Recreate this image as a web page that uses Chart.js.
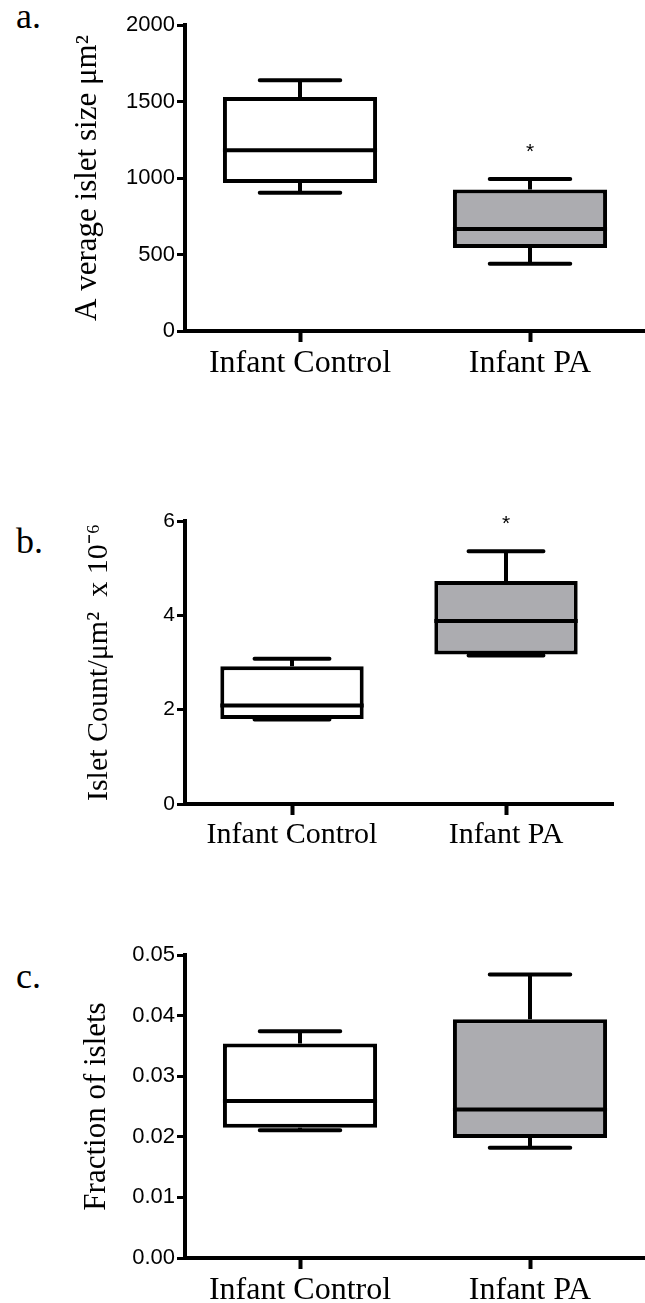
<!DOCTYPE html>
<html><head><meta charset="utf-8">
<script src="https://cdn.jsdelivr.net/npm/chart.js@4.4.0/dist/chart.umd.min.js"></script>
<style>
html,body{margin:0;padding:0;background:#fff;width:645px;height:1303px;overflow:hidden;position:relative}
canvas{position:absolute;left:0}
.lab{position:absolute;left:16px;font-family:"Liberation Serif";font-size:36px;line-height:36px;color:#000}
</style></head><body>
<div class="lab" style="top:-2px">a.</div>
<div class="lab" style="top:523px">b.</div>
<div class="lab" style="top:958px">c.</div>
<canvas id="ca" width="645" height="400" style="top:0px;width:645px;height:400px"></canvas>
<canvas id="cb" width="645" height="420" style="top:440px;width:645px;height:420px"></canvas>
<canvas id="cc" width="645" height="403" style="top:900px;width:645px;height:403px"></canvas>
<script>
const categories = ['Infant Control', 'Infant PA'];
const boxFills = ['#ffffff', '#acacb0'];

// a. Average islet size
const sizeMin = [903, 439];
const sizeQ1 = [968, 542];
const sizeMed = [1182, 667];
const sizeQ3 = [1530, 925];
const sizeMax = [1639, 993];
const sizeSig = ['', '*'];
const sizeTicks = ['0', '500', '1000', '1500', '2000'];

// b. Islet count
const countMin = [1.79, 3.15];
const countQ1 = [1.80, 3.17];
const countMed = [2.09, 3.88];
const countQ3 = [2.92, 4.73];
const countMax = [3.08, 5.36];
const countSig = ['', '*'];
const countTicks = ['0', '2', '4', '6'];

// c. Fraction of islets
const fracMin = [0.0211, 0.0182];
const fracQ1 = [0.0215, 0.0198];
const fracMed = [0.0259, 0.0245];
const fracQ3 = [0.0354, 0.0394];
const fracMax = [0.0374, 0.0468];
const fracSig = ['', ''];
const fracTicks = ['0.00', '0.01', '0.02', '0.03', '0.04', '0.05'];

const boxExtras = {
  id: 'boxExtras',
  afterDatasetsDraw(chart, args, o) {
    const ctx = chart.ctx;
    const xs = chart.scales.x, ys = chart.scales.y;
    const meta = chart.getDatasetMeta(0);
    const catW = xs.getPixelForValue(1) - xs.getPixelForValue(0);
    const capHalf = catW * o.capFrac;
    ctx.save();
    ctx.strokeStyle = '#000';
    ctx.lineWidth = o.lw;
    o.med.forEach((m, i) => {
      const x = xs.getPixelForValue(i);
      const bar = meta.data[i];
      const yMin = ys.getPixelForValue(o.min[i]);
      const yMax = ys.getPixelForValue(o.max[i]);
      const yQ1 = ys.getPixelForValue(o.q1[i]);
      const yQ3 = ys.getPixelForValue(o.q3[i]);
      const yMed = ys.getPixelForValue(m);
      ctx.lineCap = 'butt';
      ctx.beginPath();
      ctx.moveTo(x, yQ3); ctx.lineTo(x, yMax);
      ctx.moveTo(x, yQ1); ctx.lineTo(x, yMin);
      ctx.stroke();
      ctx.lineCap = 'round';
      ctx.beginPath();
      ctx.moveTo(x - capHalf, yMax); ctx.lineTo(x + capHalf, yMax);
      ctx.moveTo(x - capHalf, yMin); ctx.lineTo(x + capHalf, yMin);
      ctx.stroke();
      ctx.lineCap = 'butt';
      ctx.beginPath();
      ctx.moveTo(bar.x - bar.width / 2, yMed); ctx.lineTo(bar.x + bar.width / 2, yMed);
      ctx.stroke();
      if (o.sig[i]) {
        ctx.fillStyle = '#000';
        ctx.font = '21px "Liberation Sans"';
        ctx.textAlign = 'center';
        ctx.textBaseline = 'middle';
        ctx.fillText(o.sig[i], x, yMax - 27);
      }
    });
    ctx.restore();
  }
};

function makePanel(id, d) {
  new Chart(document.getElementById(id), {
    type: 'bar',
    data: {
      labels: categories,
      datasets: [{
        data: d.q1.map((v, i) => [v, d.q3[i]]),
        backgroundColor: boxFills,
        borderColor: '#000',
        borderWidth: 4,
        borderSkipped: false,
        barPercentage: 0.67,
        categoryPercentage: 1
      }]
    },
    options: {
      responsive: false,
      devicePixelRatio: 1,
      animation: false,
      events: [],
      layout: { padding: { top: d.padTop, right: d.padRight, left: 0, bottom: 0 } },
      plugins: {
        legend: { display: false },
        tooltip: { enabled: false },
        boxExtras: { min: d.min, q1: d.q1, med: d.med, q3: d.q3, max: d.max, sig: d.sig, capFrac: 0.175, lw: 4 }
      },
      scales: {
        x: {
          afterFit: s => { s.height = d.xH; },
          grid: { display: true, drawOnChartArea: false, offset: false, drawTicks: true, tickLength: 11, tickWidth: 4, color: '#000' },
          border: { display: true, color: '#000', width: 4 },
          ticks: { color: '#000', padding: 2, maxRotation: 0, autoSkip: false, font: { family: 'Liberation Serif', size: d.xFont } }
        },
        y: {
          min: 0, max: d.max0,
          afterFit: s => { s.width = 185; },
          grid: { display: true, drawOnChartArea: false, drawTicks: true, tickLength: 8, tickWidth: 3, color: '#000' },
          border: { display: true, color: '#000', width: 4 },
          ticks: { stepSize: d.step, color: '#000', padding: 2, font: { family: 'Liberation Sans', size: d.yFont }, callback: (v, i) => d.ticks[i] },
          title: { display: true, text: d.title, color: '#000', font: { family: 'Liberation Serif', size: d.tFont }, padding: { top: d.tPad, bottom: 0 } }
        }
      }
    },
    plugins: [boxExtras]
  });
}

makePanel('ca', { min: sizeMin, q1: sizeQ1, med: sizeMed, q3: sizeQ3, max: sizeMax, sig: sizeSig, ticks: sizeTicks, max0: 2000, step: 500,
  title: 'A verage islet size μm²', padTop: 25, padRight: 0, xH: 69, xFont: 32, yFont: 22, tFont: 31, tPad: 69 });
makePanel('cb', { min: countMin, q1: countQ1, med: countMed, q3: countQ3, max: countMax, sig: countSig, ticks: countTicks, max0: 6, step: 2,
  title: 'Islet Count/μm²  x 10⁻⁶', padTop: 81, padRight: 32, xH: 56, xFont: 30, yFont: 21, tFont: 30, tPad: 81 });
makePanel('cc', { min: fracMin, q1: fracQ1, med: fracMed, q3: fracQ3, max: fracMax, sig: fracSig, ticks: fracTicks, max0: 0.05, step: 0.01,
  title: 'Fraction of islets', padTop: 55, padRight: 0, xH: 45, xFont: 32, yFont: 22, tFont: 31, tPad: 78 });
</script>
</body></html>
